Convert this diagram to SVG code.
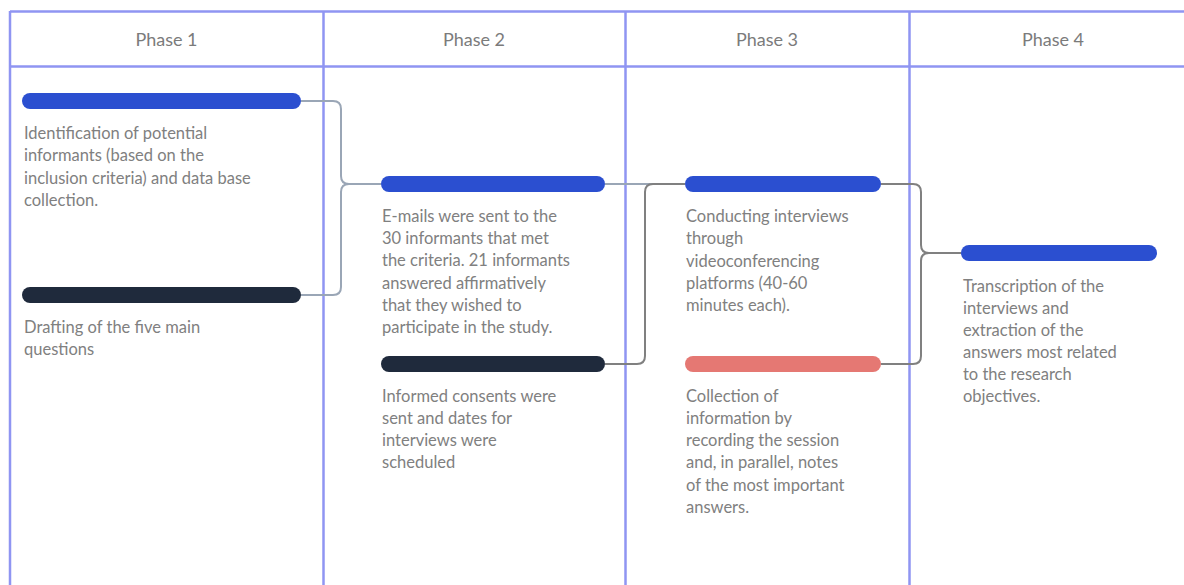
<svg xmlns="http://www.w3.org/2000/svg" width="1184" height="585" viewBox="0 0 1184 585">
<style>
.grid{stroke:#8f95f2;stroke-width:2.5;fill:none}
.hdr{font-family:Lato,"Open Sans",sans-serif;font-size:18px;fill:#7b7b7b;text-anchor:middle}
.txt{font-family:Lato,"Open Sans",sans-serif;font-size:16.5px;fill:#808080}
.bar{stroke-width:16;stroke-linecap:round;fill:none}
.blue{stroke:#2b4fd0}
.dark{stroke:#1f2a3c}
.pink{stroke:#e57873}
.c1{stroke:#9aa6b6;stroke-width:2;fill:none}
.c2{stroke:#808080;stroke-width:2;fill:none}
</style>
<rect width="1184" height="585" fill="#ffffff"/>
<g id="grid">
<line class="grid" x1="10" y1="11.5" x2="1184" y2="11.5"/>
<line class="grid" x1="10" y1="66.5" x2="1184" y2="66.5"/>
<line class="grid" x1="10" y1="11" x2="10" y2="585"/>
<line class="grid" x1="323.5" y1="11" x2="323.5" y2="585"/>
<line class="grid" x1="625.5" y1="11" x2="625.5" y2="585"/>
<line class="grid" x1="909.5" y1="11" x2="909.5" y2="585"/>
<text class="hdr" x="166.5" y="46">Phase 1</text>
<text class="hdr" x="474" y="46">Phase 2</text>
<text class="hdr" x="767" y="46">Phase 3</text>
<text class="hdr" x="1053" y="46">Phase 4</text>
</g>
<g id="connectors">
<path class="c1" d="M301 101 H333 Q341 101 341 109 V176 Q341 184 349 184 H381"/>
<path class="c1" d="M301 295 H333 Q341 295 341 287 V192 Q341 184 349 184"/>
<path class="c1" d="M605 184 H685"/>
<path class="c2" d="M605 364 H637 Q645 364 645 356 V192 Q645 184 653 184 H685"/>
<path class="c2" d="M881 184 H913 Q921 184 921 192 V245 Q921 253 929 253 H961"/>
<path class="c2" d="M881 364 H913 Q921 364 921 356 V261 Q921 253 929 253"/>
</g>
<g id="n1">
<line class="bar blue" x1="30" y1="101" x2="293" y2="101"/>
<text class="txt"><tspan x="24" y="139">Identification of potential</tspan><tspan x="24" y="161">informants (based on the</tspan><tspan x="24" y="184">inclusion criteria) and data base</tspan><tspan x="24" y="206">collection.</tspan></text>
</g>
<g id="n2">
<line class="bar dark" x1="30" y1="295" x2="293" y2="295"/>
<text class="txt"><tspan x="24" y="333">Drafting of the five main</tspan><tspan x="24" y="355">questions</tspan></text>
</g>
<g id="n3">
<line class="bar blue" x1="389" y1="184" x2="597" y2="184"/>
<text class="txt"><tspan x="382" y="222">E-mails were sent to the</tspan><tspan x="382" y="244">30 informants that met</tspan><tspan x="382" y="266">the criteria. 21 informants</tspan><tspan x="382" y="289">answered affirmatively</tspan><tspan x="382" y="311">that they wished to</tspan><tspan x="382" y="333">participate in the study.</tspan></text>
</g>
<g id="n4">
<line class="bar dark" x1="389" y1="364" x2="597" y2="364"/>
<text class="txt"><tspan x="382" y="402">Informed consents were</tspan><tspan x="382" y="424">sent and dates for</tspan><tspan x="382" y="446">interviews were</tspan><tspan x="382" y="468">scheduled</tspan></text>
</g>
<g id="n5">
<line class="bar blue" x1="693" y1="184" x2="873" y2="184"/>
<text class="txt"><tspan x="686" y="222">Conducting interviews</tspan><tspan x="686" y="244">through</tspan><tspan x="686" y="267">videoconferencing</tspan><tspan x="686" y="289">platforms (40-60</tspan><tspan x="686" y="311">minutes each).</tspan></text>
</g>
<g id="n6">
<line class="bar pink" x1="693" y1="364" x2="873" y2="364"/>
<text class="txt"><tspan x="686" y="402">Collection of</tspan><tspan x="686" y="424">information by</tspan><tspan x="686" y="446">recording the session</tspan><tspan x="686" y="468">and, in parallel, notes</tspan><tspan x="686" y="491">of the most important</tspan><tspan x="686" y="513">answers.</tspan></text>
</g>
<g id="n7">
<line class="bar blue" x1="969" y1="253" x2="1149" y2="253"/>
<text class="txt"><tspan x="963" y="292">Transcription of the</tspan><tspan x="963" y="314">interviews and</tspan><tspan x="963" y="336">extraction of the</tspan><tspan x="963" y="358">answers most related</tspan><tspan x="963" y="380">to the research</tspan><tspan x="963" y="402">objectives.</tspan></text>
</g>
</svg>
